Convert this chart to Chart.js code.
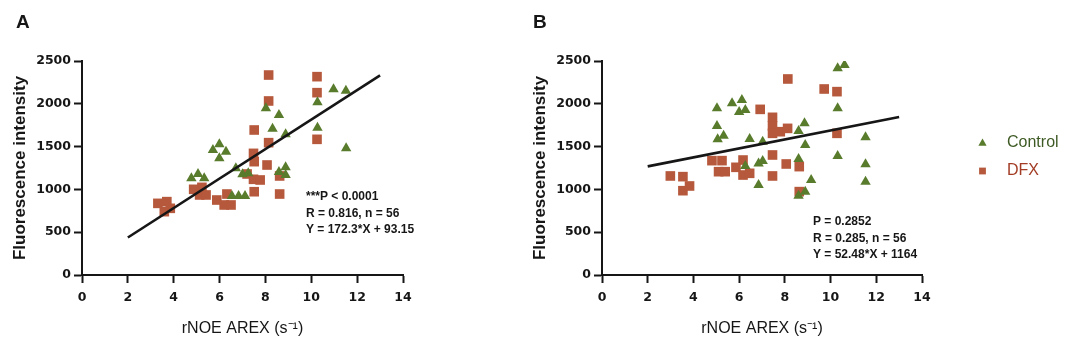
<!DOCTYPE html>
<html>
<head>
<meta charset="utf-8">
<script src="https://cdn.jsdelivr.net/npm/chart.js@4.4.0/dist/chart.umd.min.js"></script>
<style>
    html, body { margin: 0; padding: 0; background: #fff; }
    #wrap { position: relative; width: 1074px; height: 351px; overflow: hidden; }
    canvas { position: absolute; top: 0; }
    #chartA { left: 0; }
    #chartB { left: 520px; }
</style>
</head>
<body>
<div id="wrap">
    <canvas id="chartA" width="440" height="351"></canvas>
    <canvas id="chartB" width="554" height="351"></canvas>
</div>
<script>
// --- Panel A data ---
const dfxA_x = [8.14, 10.25, 10.25, 8.14, 7.51, 8.14, 10.25, 7.48, 7.51, 8.07, 7.2, 7.48, 7.77, 8.62,
                8.62, 7.51, 4.87, 5.23, 5.13, 5.41, 5.88, 6.32, 6.2, 6.5, 3.31, 3.7, 3.59, 3.85];
const dfxA_y = [2336, 2317, 2130, 2033, 1694, 1546, 1585, 1421, 1324, 1285, 1180, 1118, 1110, 1157,
                946, 973, 1001, 1024, 935, 935, 876, 946, 818, 818, 837, 857, 740, 779];
const ctrlA_x = [10.97, 11.51, 10.27, 8.02, 8.59, 8.31, 8.88, 10.27, 11.52, 5.71, 5.99, 6.28, 5.99,
                 6.71, 4.77, 5.06, 5.33, 7.0, 7.25, 8.59, 8.88, 8.88, 6.54, 6.83, 7.11];
const ctrlA_y = [2169, 2153, 2017, 1947, 1869, 1709, 1643, 1721, 1480, 1460, 1526, 1441, 1363,
                 1246, 1129, 1180, 1129, 1176, 1188, 1203, 1258, 1168, 923, 923, 923];
const fitA_x = [2, 13];
const fitA_y = [438, 2333];
const notesA = ['***P < 0.0001', 'R = 0.816, n = 56', 'Y = 172.3*X + 93.15'];

// --- Panel B data ---
const dfxB_x = [8.13, 9.72, 10.28, 6.92, 7.46, 7.46, 7.46, 7.8, 8.12, 10.28, 4.81, 5.25, 5.1, 5.39,
                5.86, 6.17, 6.17, 6.46, 7.46, 7.46, 8.06, 8.63, 8.63, 2.99, 3.54, 3.54, 3.83];
const dfxB_y = [2290, 2173, 2142, 1935, 1842, 1741, 1655, 1674, 1713, 1655, 1336, 1336, 1207, 1207,
                1258, 1343, 1168, 1188, 1402, 1157, 1297, 1266, 974, 1157, 1149, 985, 1040];
const ctrlB_x = [10.31, 10.61, 5.03, 5.69, 6.12, 6.0, 6.27, 5.03, 5.32, 5.06, 6.46, 7.03, 8.6, 8.86,
                 8.89, 10.31, 10.31, 11.53, 11.53, 11.53, 8.6, 6.85, 7.03, 6.85, 9.15, 8.89, 8.6, 6.27];
const ctrlB_y = [2414, 2453, 1947, 2005, 2044, 1904, 1928, 1741, 1628, 1585, 1589, 1558, 1682, 1772,
                 1519, 1947, 1390, 1608, 1293, 1090, 1355, 1304, 1332, 1051, 1110, 974, 927, 1273];
const fitB_x = [2, 13];
const fitB_y = [1269, 1846];
const notesB = ['P = 0.2852', 'R = 0.285, n = 56', 'Y = 52.48*X + 1164'];

// --- Axes ---
const xTicks = [0, 2, 4, 6, 8, 10, 12, 14];
const yTicks = [0, 500, 1000, 1500, 2000, 2500];
const seriesNames = ['Control', 'DFX'];

const GREEN = '#587b2c';
const RUST = '#b6583b';
const INK = '#161616';
const SANS = '"Liberation Sans", Arial, sans-serif';

function toPoints(xs, ys) {
    return xs.map((x, i) => ({ x: x, y: ys[i] }));
}

// Panel letter, stats text and the side legend
const panelTextPlugin = {
    id: 'panelText',
    afterDraw(chart, args, opts) {
        const ctx = chart.ctx;
        ctx.save();
        ctx.fillStyle = INK;
        ctx.textAlign = 'left';
        ctx.font = 'bold 19px ' + SANS;
        ctx.textBaseline = 'alphabetic';
        ctx.fillText(opts.letter, opts.letterX, 28);

        ctx.font = 'bold 12px ' + SANS;
        ctx.textBaseline = 'middle';
        opts.notes.forEach((t, i) => ctx.fillText(t, opts.noteX, opts.noteY + i * 16.3));

        if (opts.legend) {
            const items = chart.data.datasets.filter(d => d.legendColor);
            items.forEach((d, i) => {
                const y = opts.legend.y + i * 28;
                const mx = opts.legend.x;
                ctx.fillStyle = d.backgroundColor;
                ctx.beginPath();
                if (d.pointStyle === 'triangle') {
                    ctx.moveTo(mx, y - 4.6);
                    ctx.lineTo(mx + 4.1, y + 2.8);
                    ctx.lineTo(mx - 4.1, y + 2.8);
                    ctx.closePath();
                } else {
                    ctx.rect(mx - 3.4, y - 3.4, 6.8, 6.8);
                }
                ctx.fill();
                ctx.fillStyle = d.legendColor;
                ctx.font = '16px ' + SANS;
                ctx.fillText(d.label, mx + 24.5, y - 0.5);
            });
        }
        ctx.restore();
    }
};

function makeAxes() {
    const tickFont = { family: '"DejaVu Sans", sans-serif', size: 12.5, weight: 'bold' };
    return {
        x: {
            type: 'linear',
            min: xTicks[0],
            max: xTicks[xTicks.length - 1],
            afterBuildTicks: axis => { axis.ticks = xTicks.map(v => ({ value: v })); },
            afterFit: scale => { scale.height = 76; },
            ticks: { color: INK, font: tickFont, padding: 7, maxRotation: 0, callback: v => String(v) },
            grid: { drawOnChartArea: false, drawTicks: true, tickLength: 8, tickWidth: 2, tickColor: INK },
            border: { display: true, width: 2, color: INK },
            title: {
                display: true,
                text: 'rNOE AREX (s\u207B\u00B9)',
                color: INK,
                font: { family: SANS, size: 16 },
                padding: { top: 0, bottom: 13 }
            }
        },
        y: {
            type: 'linear',
            min: yTicks[0],
            max: yTicks[yTicks.length - 1],
            afterBuildTicks: axis => { axis.ticks = yTicks.map(v => ({ value: v })); },
            afterFit: scale => { scale.width = 82; },
            ticks: { color: INK, font: tickFont, padding: 3, callback: v => String(v) },
            grid: { drawOnChartArea: false, drawTicks: true, tickLength: 8, tickWidth: 2, tickColor: INK },
            border: { display: true, width: 2, color: INK },
            title: {
                display: true,
                text: 'Fluorescence intensity',
                color: INK,
                font: { family: SANS, size: 17, weight: 'bold' },
                padding: { top: 10, bottom: 0 }
            }
        }
    };
}

function makeDatasets(ctrlX, ctrlY, dfxX, dfxY, fitX, fitY) {
    return [
        {
            type: 'line',
            label: 'fit',
            data: toPoints(fitX, fitY),
            borderColor: INK,
            borderWidth: 2.6,
            pointRadius: 0,
            fill: false
        },
        {
            type: 'scatter',
            label: seriesNames[0],
            data: toPoints(ctrlX, ctrlY),
            pointStyle: 'triangle',
            pointRadius: 6,
            pointBorderWidth: 0,
            backgroundColor: GREEN,
            borderColor: GREEN,
            legendColor: '#3e5a24'
        },
        {
            type: 'scatter',
            label: seriesNames[1],
            data: toPoints(dfxX, dfxY),
            pointStyle: 'rect',
            pointRadius: 6.8,
            pointBorderWidth: 0,
            backgroundColor: RUST,
            borderColor: RUST,
            legendColor: '#a23c24'
        }
    ];
}

function renderPanel(canvasId, datasets, padRight, textOpts) {
    const canvas = document.getElementById(canvasId);
    if (!canvas) return null;
    return new Chart(canvas.getContext('2d'), {
        type: 'scatter',
        data: { datasets: datasets },
        options: {
            responsive: false,
            animation: false,
            devicePixelRatio: 1,
            layout: { padding: { top: 61, right: padRight, left: 0, bottom: 0 } },
            scales: makeAxes(),
            plugins: {
                legend: { display: false },
                tooltip: { enabled: false },
                panelText: textOpts
            }
        },
        plugins: [panelTextPlugin]
    });
}

document.addEventListener('DOMContentLoaded', function() {
    renderPanel('chartA',
        makeDatasets(ctrlA_x, ctrlA_y, dfxA_x, dfxA_y, fitA_x, fitA_y),
        37,
        { letter: 'A', letterX: 16, notes: notesA, noteX: 306, noteY: 197 });

    renderPanel('chartB',
        makeDatasets(ctrlB_x, ctrlB_y, dfxB_x, dfxB_y, fitB_x, fitB_y),
        152,
        { letter: 'B', letterX: 13, notes: notesB, noteX: 293, noteY: 222,
          legend: { x: 462.5, y: 143 } });
});
</script>
</body>
</html>
